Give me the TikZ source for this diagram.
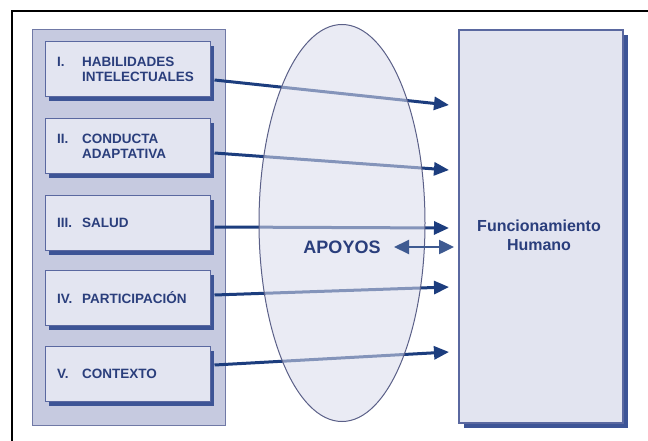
\documentclass[tikz,border=0pt]{standalone}
\usepackage{fontspec}
\setmainfont{Liberation Sans}
\usetikzlibrary{arrows.meta,shapes.geometric,shadows}
\definecolor{navy}{HTML}{1C3D7E}
\definecolor{inktext}{HTML}{2A3E7C}
\definecolor{panelfill}{HTML}{C6CAE0}
\definecolor{panelline}{HTML}{7079A6}
\definecolor{boxfill}{HTML}{E3E5F1}
\definecolor{boxline}{HTML}{5A68A0}
\definecolor{shadowblue}{HTML}{3D5496}
\definecolor{ovalfill}{HTML}{DADCEC}
\definecolor{ovalline}{HTML}{5B6088}
\tikzset{
  dimbox/.style={draw=boxline, line width=1pt, fill=boxfill, minimum width=165pt,
    minimum height=55pt, inner sep=0pt,
    drop shadow={shadow xshift=4pt, shadow yshift=-4pt, fill=shadowblue, opacity=1}},
  dimtext/.style={text=inktext, font=\bfseries\fontsize{13.5}{15}\selectfont,
    align=left, anchor=west, inner sep=0pt},
  conn/.style={navy, line width=3pt, -{Triangle[length=15pt,width=13pt]}},
}
\newcommand{\dimlabel}[2]{\makebox[25pt][l]{#1}#2}
\begin{document}
\begin{tikzpicture}[x=1pt, y=-1pt]
  \useasboundingbox (0, 0) rectangle (648, 441);
  \fill[white] (0, 0) rectangle (648, 441);
  % outer frame
  \draw[line width=2.5pt] (12, 441) -- (12, 11) -- (648, 11);

  % left panel
  \node[draw=panelline, line width=1pt, fill=panelfill, minimum width=193pt,
        minimum height=395pt, inner sep=0pt] (panel) at (128.5, 227.5) {};

  \foreach \d/\y in {1/69.5, 2/146.5, 3/223, 4/298, 5/374} {
    \node[dimbox] (b\d) at (127.5, \y) {};
  }
  \node[dimtext] (l1) at (57, 69.5)
    {\dimlabel{I.}{HABILIDADES}\\\hspace*{25pt}INTELECTUALES};
  \node[dimtext] (l2) at (57, 146.5)
    {\dimlabel{II.}{CONDUCTA}\\\hspace*{25pt}ADAPTATIVA};
  \node[dimtext] (l3) at (57, 223) {\dimlabel{III.}{SALUD}};
  \node[dimtext] (l4) at (57, 298) {\dimlabel{IV.}{PARTICIPACIÓN}};
  \node[dimtext] (l5) at (57, 374) {\dimlabel{V.}{CONTEXTO}};

  % right box
  \node[draw=boxline, line width=1.5pt, fill=boxfill!95!panelfill, minimum width=164pt,
        minimum height=393pt, inner sep=0pt,
        drop shadow={shadow xshift=5pt, shadow yshift=-5pt, fill=shadowblue, opacity=1}]
        (fh) at (541, 226.5) {};
  \node[text=inktext, font=\bfseries\fontsize{16}{19}\selectfont, align=center]
        (fhtext) at (539, 235) {Funcionamiento\\Humano};

  % arrows into the box
  \foreach \d/\dy/\ty in {1/-10.5/105, 2/-6.5/170, 3/-4/228, 4/3/287, 5/9/352} {
    \coordinate (t\d) at (449, \ty);
    \draw[conn] ([yshift=\dy pt, xshift=4pt]b\d.east) -- (t\d);
  }

  % supports
  \node[ellipse, draw=ovalline, line width=1pt, fill=ovalfill, fill opacity=0.55,
        minimum width=166pt, minimum height=397pt, inner sep=0pt] (apoyos) at (342, 223) {};
  \node[text=inktext, font=\bfseries\fontsize{18}{20}\selectfont] (aptext) at (342, 247) {APOYOS};
  \coordinate (dtip) at (454, 247);
  \draw[navy!85!white, line width=2.5pt, {Triangle[length=15pt,width=14pt]}-{Triangle[length=15pt,width=14pt]}]
    ([xshift=10pt]aptext.east) -- (dtip);
\end{tikzpicture}
\end{document}
